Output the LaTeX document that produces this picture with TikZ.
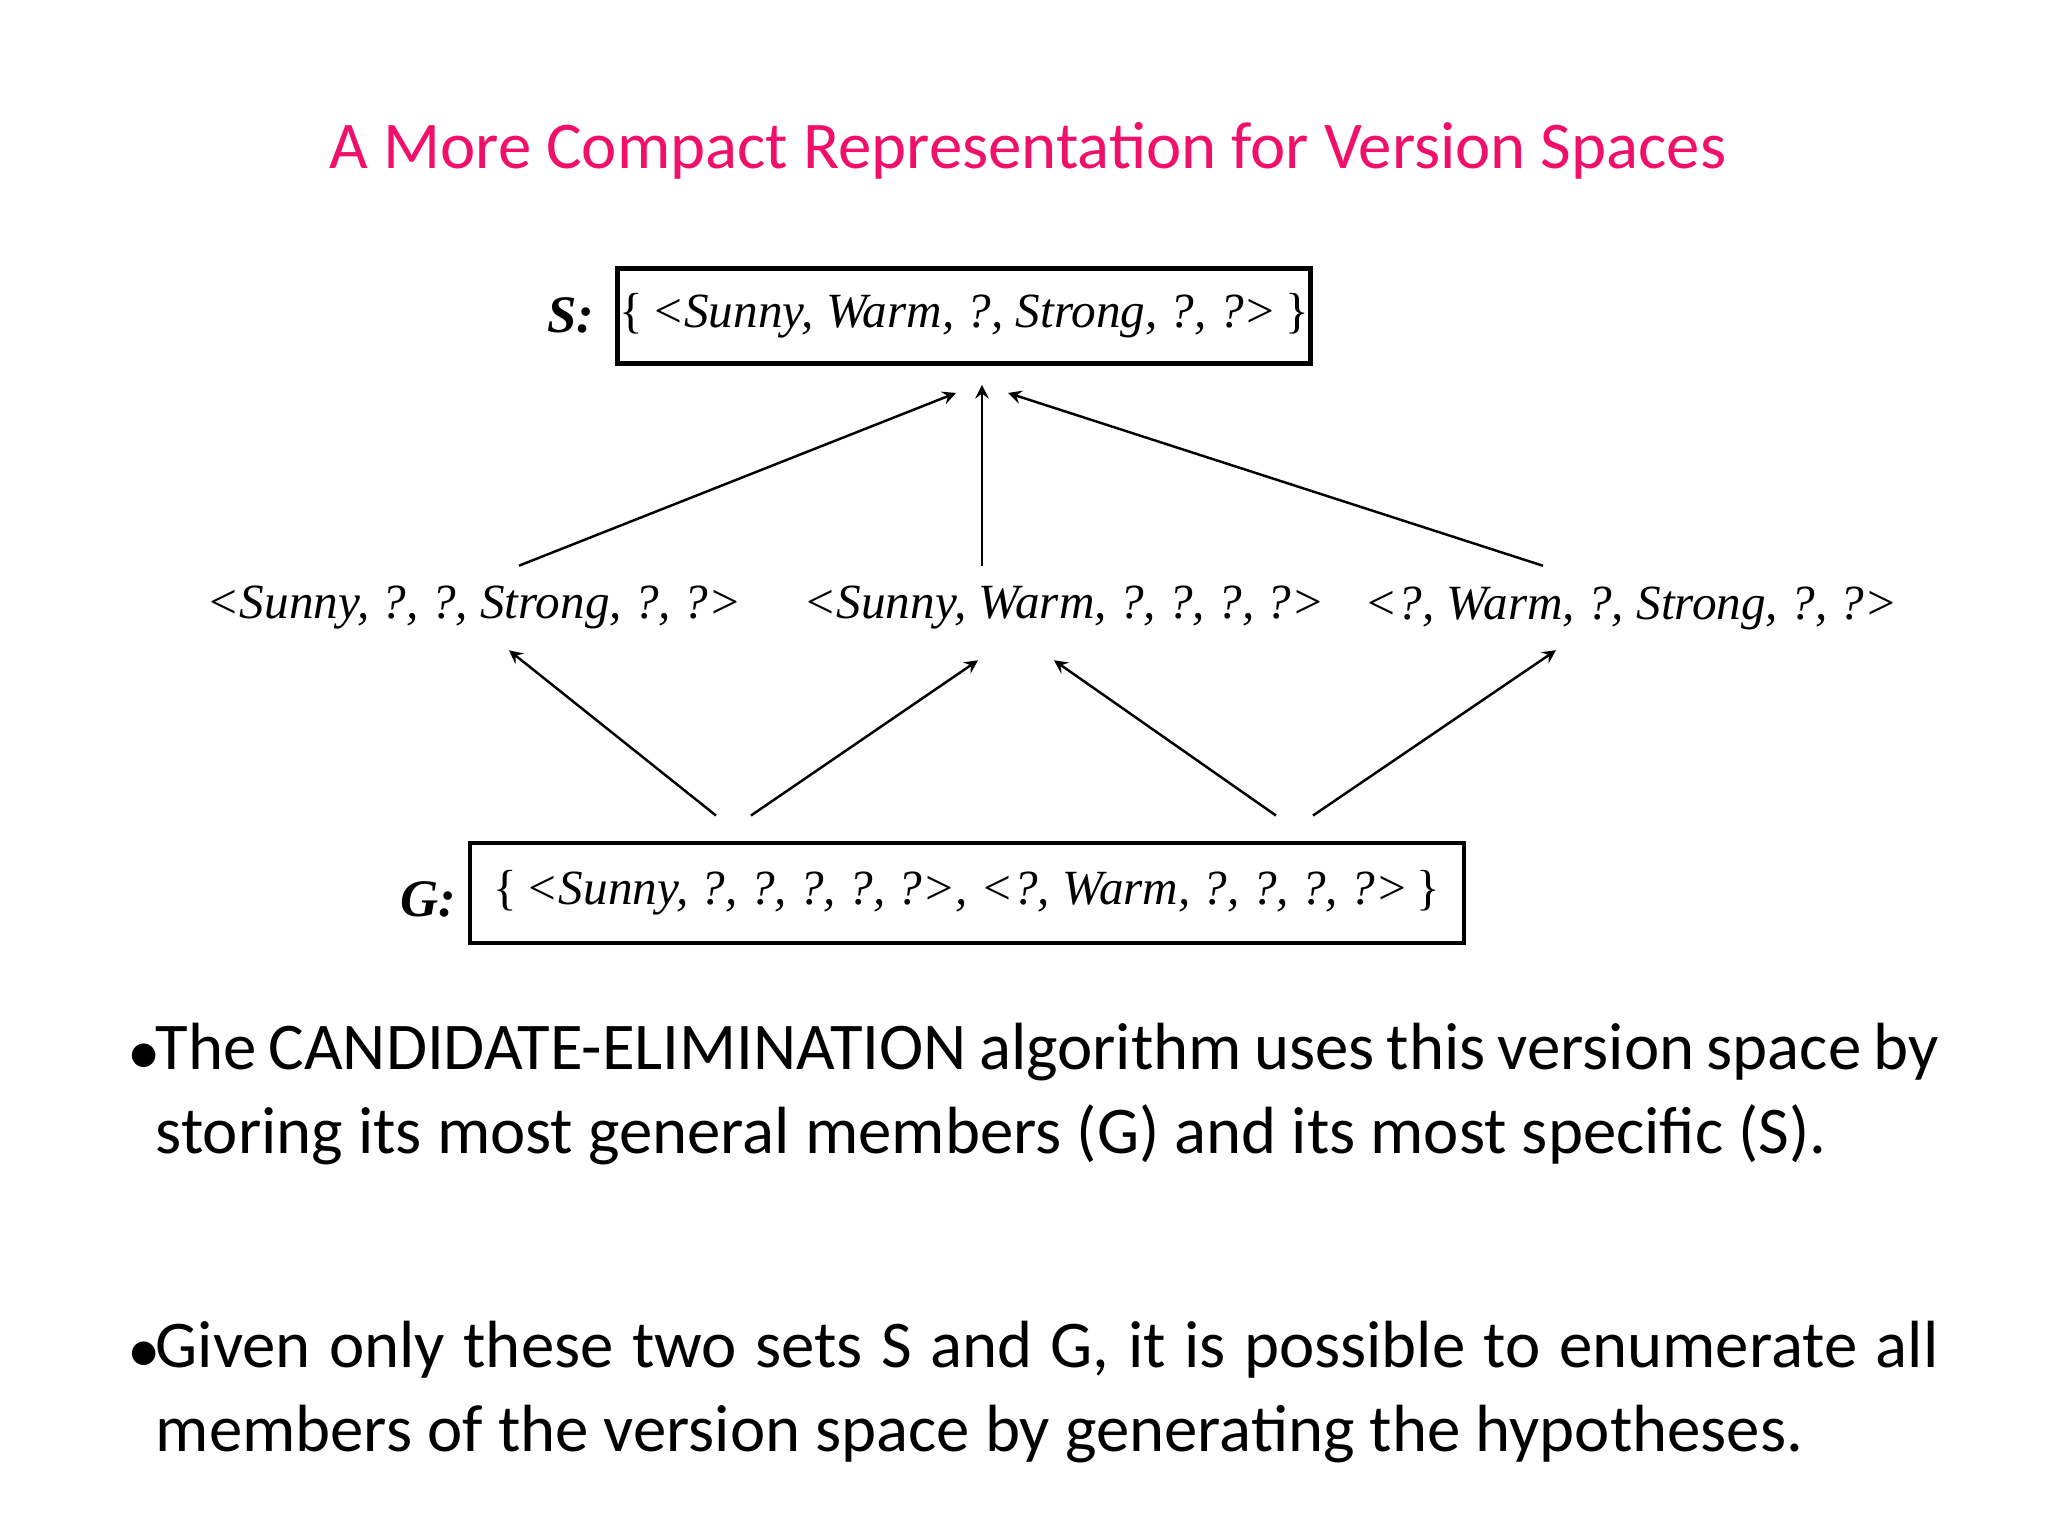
\documentclass[tikz,border=0pt]{standalone}
\usepackage{fontspec}
\setmainfont{Carlito}
\newfontfamily\hypfont{Liberation Serif}
\usetikzlibrary{positioning}
\definecolor{titlepink}{RGB}{240,16,106}

\begin{document}
\begin{tikzpicture}[
every node/.style = {inner sep=0pt},
hyp/.style = {font=\hypfont\fontsize{14}{16}\selectfont\itshape},
setbox/.style = {draw, line width=1.4pt, minimum height=0.95cm, anchor=center},
setlabel/.style = {font=\hypfont\fontsize{15}{16}\selectfont\bfseries\itshape},
up/.style = {-stealth, line width=0.7pt},
bullettext/.style = {font=\fontsize{19}{24}\selectfont, text width=17.83cm,
                     align=justify, anchor=north west}]
\useasboundingbox (0,0) rectangle (20.48,-15.36);
\node (title) at (10.28,-1.51) {\color{titlepink}\fontsize{19}{22}\selectfont A More Compact Representation for Version Spaces};
% the two boundary sets
\node[setbox, hyp, minimum width=6.93cm] (S) at (9.64,-3.16) {\upshape\{\,\itshape<Sunny, Warm, ?, Strong, ?, ?>\,\upshape\}};
\node[setlabel] (Slabel) at (5.71,-3.15) {S:};
\node[setbox, hyp, minimum width=9.94cm, minimum height=1.0cm] (G) at (9.67,-8.93) {\upshape\{\,\itshape<Sunny, ?, ?, ?, ?, ?>, <?, Warm, ?, ?, ?, ?>\,\upshape\}};
\node[setlabel] (Glabel) at (4.28,-8.99) {G:};
% hypotheses in between
\node[hyp] (m1) at (4.74,-6.08) {<Sunny, ?, ?, Strong, ?, ?>};
\node[hyp] (m2) at (10.64,-6.08) {<Sunny, Warm, ?, ?, ?, ?>};
\node[hyp] (m3) at (16.31,-6.08) {<?, Warm, ?, Strong, ?, ?>};
\draw[up] ([xshift=0.45cm,yshift=0.2cm]m1.north) -- ([xshift=-0.08cm,yshift=-0.27cm]S.south);
\draw[up] ([xshift=-0.82cm,yshift=0.2cm]m2.north) -- ([xshift=0.18cm,yshift=-0.19cm]S.south);
\draw[up] ([xshift=-0.88cm,yshift=0.2cm]m3.north) -- ([xshift=0.44cm,yshift=-0.27cm]S.south);
\draw[up] ([xshift=-2.51cm,yshift=0.25cm]G.north) -- ([xshift=0.35cm,yshift=-0.2cm]m1.south);
\draw[up] ([xshift=-2.16cm,yshift=0.25cm]G.north) -- ([xshift=-0.86cm,yshift=-0.3cm]m2.south);
\draw[up] ([xshift=3.09cm,yshift=0.25cm]G.north) -- ([xshift=-0.1cm,yshift=-0.3cm]m2.south);
\draw[up] ([xshift=3.46cm,yshift=0.25cm]G.north) -- ([xshift=-0.75cm,yshift=-0.2cm]m3.south);
% bullet text
\node[anchor=base west, font=\fontsize{19}{24}\selectfont] (b1) at (1.27,-10.74) {•};
\node[bullettext] (t1) at (1.55,-10.22) {The CANDIDATE-ELIMINATION algorithm uses this version space by storing its most general members (G) and its most specific (S).};
\node[anchor=base west, font=\fontsize{19}{24}\selectfont] (b2) at (1.27,-13.72) {•};
\node[bullettext] (t2) at (1.55,-13.20) {Given only these two sets S and G, it is possible to enumerate all members of the version space by generating the hypotheses.};
\end{tikzpicture}
\end{document}
